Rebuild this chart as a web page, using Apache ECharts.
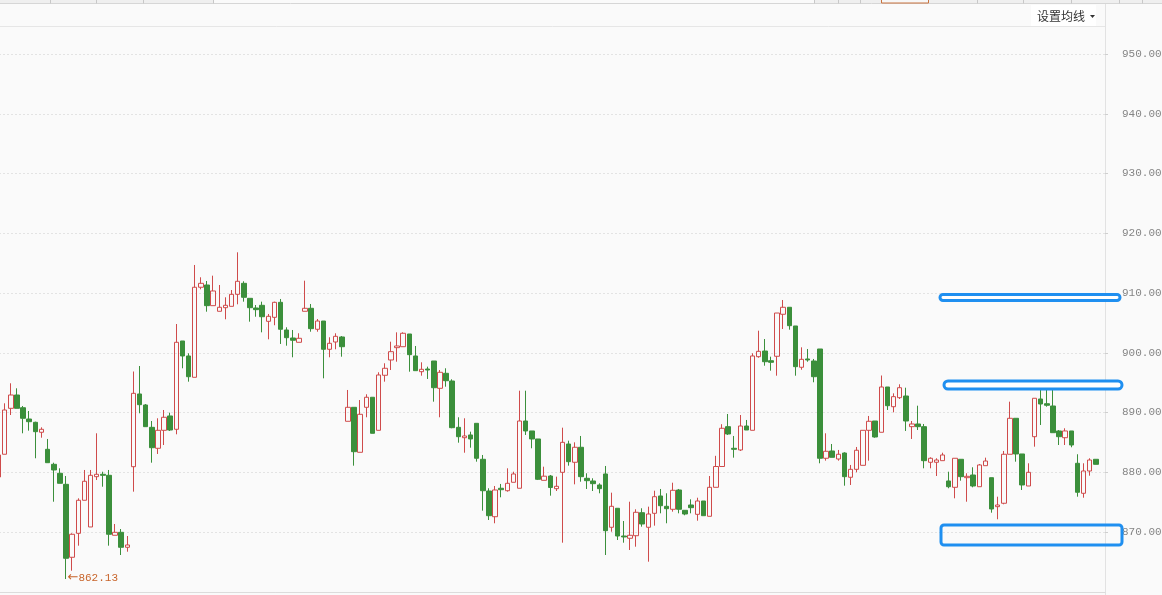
<!DOCTYPE html>
<html>
<head>
<meta charset="utf-8">
<style>
html,body{margin:0;padding:0;background:#fafafa;}
#chart{width:1162px;height:595px;}
</style>
<script src="https://cdn.jsdelivr.net/npm/echarts/dist/echarts.min.js"></script>
</head>
<body>
<div id="chart"></div>
<script>
// [open, close, lowest, highest]
const candles = [
[879.21,882.89,879.21,882.89],[883.01,890.42,883.01,891.54],[890.70,892.93,889.58,894.89],[892.93,890.70,890.70,894.05],
[890.80,889.03,886.52,891.09],[888.91,888.46,886.96,890.25],[888.36,886.79,882.34,888.46],[886.69,887.19,885.78,887.52],
[883.84,881.60,881.60,885.57],[881.33,880.38,875.07,881.60],[879.83,878.15,878.15,880.66],[877.98,865.60,862.13,879.37],
[865.77,869.62,863.52,869.78],[869.78,875.31,867.71,875.64],[875.31,878.49,875.31,880.38],[870.84,879.49,870.84,880.38],
[879.26,879.66,878.70,886.52],[879.66,879.49,877.58,880.09],[879.49,869.62,867.71,880.38],[869.45,869.95,869.45,871.34],
[869.95,867.44,866.15,870.50],[867.44,867.83,866.70,869.33],[880.93,893.21,876.75,896.86],[893.10,891.31,889.87,897.78],
[891.26,887.63,887.63,891.42],[887.52,884.11,881.60,888.58],
[884.01,887.02,883.06,889.03],[887.02,889.20,884.56,890.42],[889.42,887.07,886.91,889.97],[887.19,901.75,886.35,904.81],
[901.97,899.46,897.40,901.97],[899.46,895.99,895.16,899.91],[895.89,910.96,895.89,914.69],[910.96,911.62,910.62,912.63],
[911.34,907.88,906.87,912.01],[907.88,910.34,907.88,912.90],[906.94,907.61,906.94,911.34],[907.54,907.94,905.60,909.28],
[907.77,909.78,907.77,910.50],[909.78,911.96,908.11,916.81],[911.62,909.28,908.55,911.96],[909.11,907.54,905.20,909.11],
[907.49,907.21,906.03,907.99],[907.94,906.03,903.42,908.55],[905.26,906.10,902.25,906.49],[905.93,908.44,904.60,908.55],
[908.44,903.93,901.47,909.00],[903.81,902.52,901.18,904.26],[902.47,902.09,899.24,903.81],[901.75,902.42,901.75,903.26],
[906.94,907.44,906.94,912.06],[907.44,904.03,903.52,908.16],
[903.93,905.31,903.52,905.65],[905.31,900.58,895.72,905.31],[900.58,901.58,899.24,902.59],[901.80,902.75,900.58,903.26],
[902.64,901.01,899.34,902.80],[888.53,890.87,888.53,893.77],[890.87,883.44,881.10,890.87],[883.34,889.70,883.34,892.09],
[890.87,892.55,889.20,893.05],[892.55,886.52,886.52,892.55],[887.02,896.28,887.02,896.73],[896.23,897.40,895.16,898.24],
[898.79,900.18,897.11,901.85],[900.85,901.13,898.50,903.42],[901.01,903.26,901.01,903.42],[903.14,899.68,896.83,903.14],
[899.46,897.00,897.00,901.13],[896.83,897.23,896.16,898.40],[897.28,897.11,895.61,897.67],[898.62,894.15,891.81,898.62],
[894.05,896.73,889.20,897.11],[896.56,895.32,894.32,897.40],[895.27,887.46,887.36,895.56],[887.52,885.95,884.95,889.20],
[885.78,886.07,883.27,889.03],[886.24,885.57,884.11,886.79],
[888.19,882.34,881.77,888.19],[882.17,876.91,873.57,882.89],[876.86,872.73,872.01,877.32],[872.56,877.03,871.46,877.70],
[877.32,877.08,875.81,878.04],[876.91,878.15,876.75,880.66],[878.32,879.71,878.32,880.09],[877.32,888.58,877.32,893.65],
[888.58,886.91,886.24,893.65],[886.91,885.57,884.01,886.91],[885.57,878.82,878.70,885.57],[878.65,879.34,878.65,880.93],
[879.37,877.45,876.08,879.54],[877.25,877.65,876.86,879.26],[879.99,885.01,868.21,887.46],[884.73,881.77,881.10,885.28],
[881.67,884.18,877.98,885.01],[884.18,879.26,878.42,886.07],[878.99,878.59,877.20,879.83],[878.54,878.09,876.86,878.99],
[877.87,877.25,876.48,878.15],[879.71,870.22,866.15,881.05],[870.79,874.30,870.05,876.58],[873.97,869.33,868.66,873.97],
[869.33,869.17,868.21,871.84],[868.95,869.45,866.99,875.07],
[869.38,873.30,867.54,873.80],[873.23,871.34,870.89,873.97],[870.79,873.01,865.03,874.24],[873.13,875.91,871.06,876.91],
[876.03,874.40,873.13,877.20],[874.30,873.90,871.46,876.48],[873.80,876.98,873.40,878.25],[877.03,873.80,873.13,877.20],
[873.63,873.01,872.80,873.63],[874.52,874.07,873.13,875.47],[872.96,875.19,871.89,875.74],[875.19,872.73,872.73,875.19],
[872.63,877.48,872.63,879.37],[877.48,880.96,877.48,882.75],[880.96,887.36,880.96,888.04],[887.63,886.40,886.24,889.75],
[884.01,883.84,882.44,886.07],[883.73,887.74,883.56,889.58],[887.74,887.07,887.07,888.75],[887.02,899.46,887.02,899.91],
[899.34,900.24,899.17,903.69],[900.29,898.50,897.83,902.30],[898.67,898.40,897.00,899.34],[899.41,906.65,896.16,906.65],
[906.44,907.61,903.98,908.83],[907.61,904.53,903.86,907.61],
[904.48,897.67,896.16,904.48],[897.57,898.90,897.16,900.91],[898.96,898.79,898.50,900.63],[898.62,895.99,895.06,898.96],
[900.63,882.34,881.50,900.63],[882.34,883.51,881.94,886.52],[883.56,882.50,882.50,884.73],[882.22,883.01,881.94,883.73],
[883.22,879.26,877.75,883.34],[879.16,880.49,877.87,881.22],[880.49,883.68,879.99,884.23],[881.16,887.02,881.16,887.02],
[887.02,888.53,881.94,889.42],[888.58,885.90,885.78,888.58],[886.69,894.27,886.69,896.19],[894.27,891.14,890.42,894.27],
[890.97,892.65,890.03,893.21],[892.48,894.15,892.26,894.72],[892.76,888.58,886.91,894.15],[887.63,888.08,885.57,888.58],
[888.08,887.63,887.07,891.14],[887.63,881.94,880.66,888.08],[881.67,882.34,880.66,882.50],[881.67,882.05,879.37,882.34],
[881.94,882.89,881.94,883.27],[878.54,877.58,877.32,880.09],
[877.48,882.34,875.64,882.34],[882.17,879.26,878.59,882.17],[879.09,879.32,875.07,879.83],[879.54,877.70,877.48,880.83],
[877.58,881.22,877.58,881.38],[881.10,881.88,881.10,882.44],[879.09,873.85,873.23,879.09],[874.24,874.52,872.13,875.91],
[874.81,883.01,874.64,883.56],[883.01,889.03,883.01,891.81],[889.03,883.06,881.77,889.03],[883.06,877.87,877.03,883.06],
[877.70,879.99,877.70,881.50],[885.95,892.38,884.28,892.38],[892.26,891.42,887.91,893.93],[891.47,891.21,890.97,893.93],
[891.09,886.62,886.62,893.93],[886.91,885.95,884.56,887.07],[885.78,886.91,884.56,887.36],[886.91,884.56,884.18,886.91],
[881.50,876.65,875.91,883.01],[876.48,880.21,875.74,881.50],[880.21,882.05,879.42,882.34],[882.17,881.33,881.33,882.17]
];
// one empty trailing slot
const categories = candles.map((_, i) => String(i + 1)).concat(['']);
const yMin = 860, yMax = 950, yStep = 10;
// drawn horizontal boxes (price top, price bottom)
const drawLevels = [[909.75, 908.75], [895.27, 893.93], [871.17, 867.83]];
const menuText = '设置均线';

const chart = echarts.init(document.getElementById('chart'), null, {renderer: 'canvas'});
const RED = '#cf4b4b', GREEN = '#3b8f3b';
chart.setOption({
  backgroundColor: '#fafafa',
  animation: false,
  grid: {left: -4.47, right: 57, top: 54, bottom: 3.25, outerBoundsMode: 'none', containLabel: false},
  xAxis: {
    type: 'category', data: categories, boundaryGap: true,
    axisLine: {show: true, lineStyle: {color: '#dcdcdc'}},
    axisTick: {show: false}, axisLabel: {show: false}, splitLine: {show: false}
  },
  yAxis: {
    type: 'value', position: 'right', min: yMin, max: yMax, interval: yStep, scale: true,
    axisLine: {show: false},
    axisTick: {show: true, length: 3, lineStyle: {color: '#cfcfcf'}},
    axisLabel: {color: '#858585', fontFamily: 'Liberation Mono', fontSize: 11, margin: 17,
      showMinLabel: false, formatter: v => v.toFixed(2)},
    splitLine: {show: true, lineStyle: {color: '#cccccc', type: [1, 3], width: 1}}
  },
  series: [{
    type: 'candlestick',
    data: candles,
    barWidth: 5,
    itemStyle: {color: 'rgba(0,0,0,0)', color0: GREEN, borderColor: RED, borderColor0: GREEN, borderWidth: 1},
    markPoint: {
      symbol: 'rect', symbolSize: 1, itemStyle: {color: 'rgba(0,0,0,0)'},
      data: [{type: 'min', valueDim: 'lowest'}],
      label: {
        show: true, position: 'right', distance: 1, offset: [0, -1],
        formatter: p => '{a|←}{b|' + Number(p.value).toFixed(2) + '}',
        rich: {
          a: {color: '#c8642a', fontFamily: 'DejaVu Sans', fontSize: 13},
          b: {color: '#c8642a', fontFamily: 'Liberation Mono', fontSize: 11}
        }
      }
    }
  }]
});

function py(v) { return chart.convertToPixel({yAxisIndex: 0}, v); }
const g = [];
// top tab strip
g.push({type: 'rect', shape: {x: 0, y: 0, width: 213, height: 3.5}, style: {fill: '#efefef'}});
g.push({type: 'rect', shape: {x: 814, y: 0, width: 348, height: 3.5}, style: {fill: '#efefef'}});
g.push({type: 'line', shape: {x1: 0, y1: 3.5, x2: 1162, y2: 3.5}, style: {stroke: '#d6d6d6', lineWidth: 1}});
[50, 96, 143, 213, 814, 838, 860, 977, 1023, 1071, 1119, 1142].forEach(x => {
  g.push({type: 'line', shape: {x1: x + 0.5, y1: 0, x2: x + 0.5, y2: 3.5}, style: {stroke: '#c8c8c8', lineWidth: 1}});
});
g.push({type: 'rect', shape: {x: 881.5, y: -2, width: 47, height: 5}, style: {fill: '#f7f7f7', stroke: '#c9733f', lineWidth: 1}});
// header line
g.push({type: 'line', shape: {x1: 0, y1: 26.5, x2: 1105, y2: 26.5}, style: {stroke: '#e6e6e6', lineWidth: 1}});
g.push({type: 'rect', shape: {x: 1031, y: 5, width: 65, height: 21}, style: {fill: '#ffffff'}});
g.push({type: 'text', x: 1037, y: 16, style: {text: menuText, fill: '#333333', font: '12px "Noto Sans CJK SC"', verticalAlign: 'middle', textAlign: 'left'}});
g.push({type: 'polygon', shape: {points: [[1090, 15], [1095, 15], [1092.5, 18]]}, style: {fill: '#333333'}});
// right vertical axis line
g.push({type: 'line', shape: {x1: 1105.5, y1: 4, x2: 1105.5, y2: 595}, style: {stroke: '#e2e2e2', lineWidth: 1}});
// drawn boxes
const boxX = [[940, 1120], [944, 1122], [941, 1122]];
drawLevels.forEach((lv, i) => {
  const y1 = py(lv[0]), y2 = py(lv[1]);
  g.push({type: 'rect', z: 100,
    shape: {x: boxX[i][0], y: y1, width: boxX[i][1] - boxX[i][0], height: y2 - y1, r: i === 2 ? 3 : 4},
    style: {fill: i === 2 ? 'rgba(0,0,0,0)' : '#ffffff', stroke: '#1f8ff0', lineWidth: 3}});
});
chart.setOption({graphic: g});
</script>
</body>
</html>
